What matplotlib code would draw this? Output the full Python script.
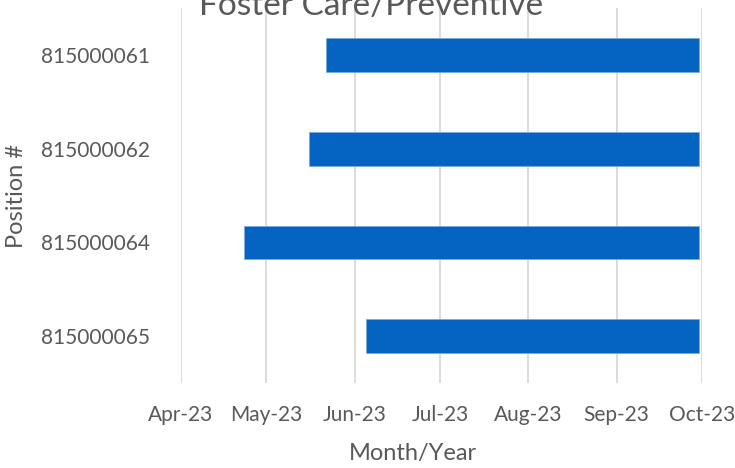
import pandas as pd
import matplotlib
matplotlib.use("Agg")
import matplotlib.pyplot as plt
import matplotlib.dates as mdates

positions = ["815000061", "815000062", "815000064", "815000065"]
start_dates = ["2023-05-22", "2023-05-16", "2023-04-23", "2023-06-05"]
end_dates = ["2023-09-30", "2023-09-30", "2023-09-30", "2023-09-30"]
tick_months = ["2023-04-01", "2023-05-01", "2023-06-01", "2023-07-01",
               "2023-08-01", "2023-09-01", "2023-10-01"]

plt.rcParams['font.family'] = ['Lato', 'DejaVu Sans']
text_col = '#595959'

start = mdates.date2num(pd.to_datetime(start_dates))
end = mdates.date2num(pd.to_datetime(end_dates))
ticks = mdates.date2num(pd.to_datetime(tick_months))

fig = plt.figure(figsize=(7.35, 4.68), dpi=100)
ax = fig.add_axes([181/735, 1 - 383/468, 521/735, 375/468])

ax.barh(positions, end - start, left=start, height=0.36,
        color='#0563C1', edgecolor='#7aa9dd', linewidth=0.6, zorder=3)
ax.set_ylim(3.5, -0.5)
ax.set_xlim(ticks[0], ticks[-1])
ax.set_xticks(ticks)
ax.xaxis.set_major_formatter(mdates.DateFormatter('%b-%y'))

ax.grid(axis='x', color='#d9d9d9', linewidth=1.3, zorder=0)
for s in ax.spines.values():
    s.set_visible(False)
ax.tick_params(axis='both', length=0, colors=text_col, labelsize=15)
ax.tick_params(axis='y', pad=22)
ax.tick_params(axis='x', pad=16)

ax.set_xlabel("Month/Year", fontsize=17, color=text_col)
ax.xaxis.set_label_coords(0.445, -0.16)
ax.set_ylabel("Position #", fontsize=17, color=text_col)
ax.yaxis.set_label_coords(-0.296, 0.5)

fig.text(371/735, 1 - 15/468, "Foster Care/Preventive", ha='center',
         va='baseline', fontsize=24, color=text_col)

fig.savefig("out.png", dpi=100)
